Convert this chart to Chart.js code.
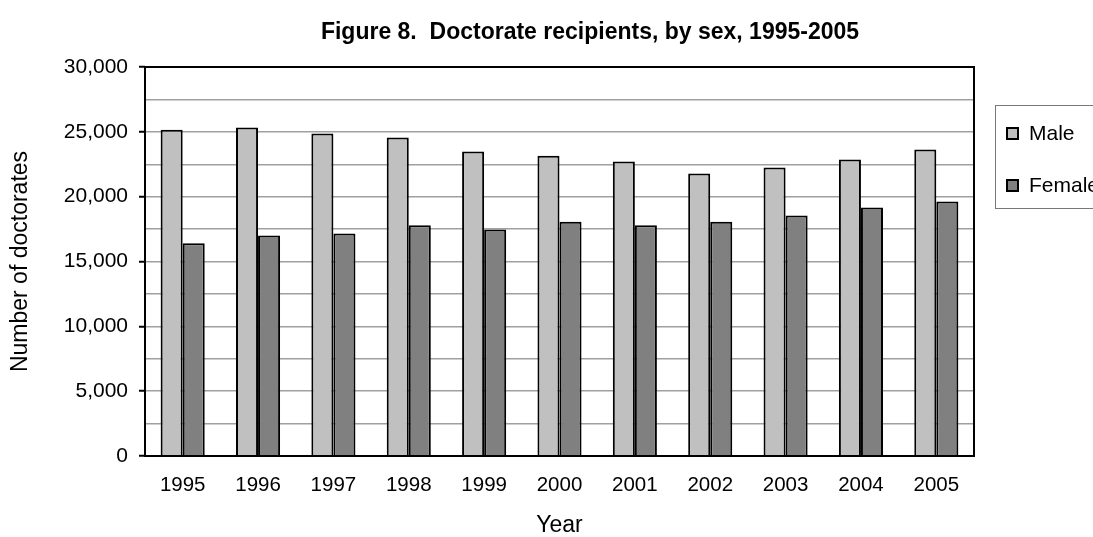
<!DOCTYPE html>
<html>
<head>
<meta charset="utf-8">
<script src="https://cdn.jsdelivr.net/npm/chart.js@4/dist/chart.umd.min.js"></script>
<style>
  html, body { margin: 0; padding: 0; background: #fff; }
  #wrap { width: 1093px; height: 537px; position: relative; }
</style>
</head>
<body>
<div id="wrap"><canvas id="chart"></canvas></div>
<script>
// data
const years = ['1995', '1996', '1997', '1998', '1999', '2000', '2001', '2002', '2003', '2004', '2005'];
const maleCounts = [25160, 25330, 24870, 24560, 23480, 23150, 22710, 21780, 22250, 22860, 23640];
const femaleCounts = [16400, 17000, 17150, 17800, 17460, 18070, 17800, 18070, 18540, 19160, 19620];
const seriesNames = ['Male', 'Female'];
const yTicks = [0, 5000, 10000, 15000, 20000, 25000, 30000];

const FONT = '"Liberation Sans", Arial, sans-serif';
const TITLE = 'Figure 8.  Doctorate recipients, by sex, 1995-2005';

// title, plot frame and the clipped legend box, drawn the way the original looks
const decorations = {
    id: 'decorations',
    afterDatasetsDraw(chart) {
        const { ctx, chartArea: a } = chart;
        ctx.save();
        ctx.strokeStyle = '#000';
        ctx.lineWidth = 2;
        ctx.strokeRect(a.left, a.top, a.right - a.left, a.bottom - a.top);
        ctx.restore();
    },
    afterDraw(chart) {
        const ctx = chart.ctx;
        ctx.save();
        ctx.fillStyle = '#000';
        ctx.font = 'bold 23px ' + FONT;
        ctx.textAlign = 'center';
        ctx.textBaseline = 'middle';
        ctx.fillText(TITLE, 590, 33);

        // legend
        ctx.strokeStyle = '#777';
        ctx.lineWidth = 1;
        ctx.strokeRect(995.5, 105.5, 130, 103);
        ctx.font = '21px ' + FONT;
        ctx.textAlign = 'left';
        chart.data.datasets.forEach((ds, i) => {
            const cy = 133 + i * 52;
            ctx.fillStyle = ds.backgroundColor;
            ctx.fillRect(1007, cy - 5, 11, 11);
            ctx.strokeStyle = '#000';
            ctx.lineWidth = 2;
            ctx.strokeRect(1007, cy - 5, 11, 11);
            ctx.fillStyle = '#000';
            ctx.fillText(ds.label, 1029, cy + 1);
        });
        ctx.restore();
    }
};

const ctx = document.getElementById('chart').getContext('2d');
const chart = new Chart(ctx, {
    type: 'bar',
    data: {
        labels: years,
        datasets: [{
            label: seriesNames[0],
            data: maleCounts,
            backgroundColor: '#c0c0c0',
            borderColor: '#000',
            borderWidth: 2
        }, {
            label: seriesNames[1],
            data: femaleCounts,
            backgroundColor: '#808080',
            borderColor: '#000',
            borderWidth: 2
        }]
    },
    options: {
        responsive: true,
        maintainAspectRatio: false,
        animation: false,
        layout: { padding: { top: 67, right: 119, bottom: 0, left: 0 } },
        datasets: {
            bar: { categoryPercentage: 0.585, barPercentage: 1.0 }
        },
        plugins: {
            legend: { display: false },
            title: { display: false },
            tooltip: { enabled: false }
        },
        scales: {
            x: {
                grid: { display: false, drawTicks: false },
                border: { display: false },
                ticks: { color: '#000', font: { family: FONT, size: 20.5 }, padding: 17, maxRotation: 0 },
                title: { display: true, text: 'Year', color: '#000', font: { family: FONT, size: 23, lineHeight: 1.0 }, padding: { top: 0, bottom: 0 } },
                afterFit: s => { s.height = 81; }
            },
            y: {
                min: 0,
                max: 30000,
                ticks: {
                    stepSize: 2500,
                    color: '#000',
                    padding: 11,
                    font: { family: FONT, size: 21 },
                    callback: v => yTicks.includes(v) ? v.toLocaleString('en-US') : ''
                },
                grid: {
                    color: c => (c.tick && c.tick.value === 30000) ? 'rgba(0,0,0,0)' : '#a0a0a0',
                    lineWidth: 1.5,
                    drawTicks: true,
                    tickLength: 6,
                    tickWidth: 2,
                    tickColor: c => (c.tick && yTicks.includes(c.tick.value)) ? '#000' : 'rgba(0,0,0,0)'
                },
                border: { display: false },
                title: { display: true, text: 'Number of doctorates', color: '#000', font: { family: FONT, size: 23 }, padding: { top: 7, bottom: 0 } },
                afterFit: s => { s.width = 145; }
            }
        }
    },
    plugins: [decorations]
});
</script>
</body>
</html>
